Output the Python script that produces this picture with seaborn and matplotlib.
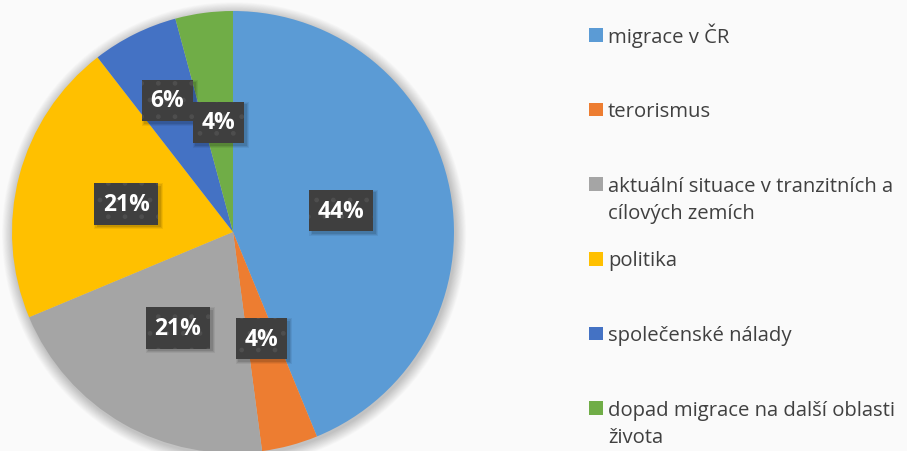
import matplotlib
matplotlib.use("Agg")
import matplotlib.pyplot as plt
import matplotlib.patches as mpatches
import matplotlib.transforms as mtransforms
import numpy as np
import seaborn as sns

# ---- data ----
categories = [
    "migrace v ČR",
    "terorismus",
    "aktuální situace v tranzitních a\ncílových zemích",
    "politika",
    "společenské nálady",
    "dopad migrace na další oblasti\nživota",
]
shares = [43.8, 4.1, 20.8, 20.8, 6.3, 4.2]
pct_labels = ["44%", "4%", "21%", "21%", "6%", "4%"]
colors = ["#5B9BD5", "#ED7D31", "#A5A5A5", "#FFC000", "#4472C4", "#70AD47"]

# ---- style / layout ----
label_dist = [0.5, 0.5, 0.5, 0.5, 0.665, 0.5]
BG = "#FAFAFA"
TXT = "#404040"

sns.set_theme(style="white")
plt.rcParams["font.family"] = ["Open Sans", "DejaVu Sans"]

W, H = 907, 452
fig = plt.figure(figsize=(W / 100, H / 100), dpi=100, facecolor=BG)

cx, cy, R = 233, 233, 221
ax = fig.add_axes([(cx - R) / W, (H - cy - R) / H, 2 * R / W, 2 * R / H])
ax.set_facecolor(BG)

palette = sns.color_palette(colors)

# soft shadow behind the pie
for k in range(14):
    ax.add_patch(mpatches.Circle((0.005, -0.01), 1 + 0.05 * (k + 1) / 14,
                                 color="black", alpha=0.016, lw=0,
                                 clip_on=False, zorder=0))

wedges, _ = ax.pie(shares, colors=palette, startangle=90, counterclock=False,
                   radius=1, wedgeprops=dict(linewidth=0, zorder=2))
for w in wedges:
    w.set_clip_on(False)
ax.set_xlim(-1, 1)
ax.set_ylim(-1, 1)
ax.set_aspect("equal")
ax.axis("off")

# data labels
texts = []
for w, lab, d in zip(wedges, pct_labels, label_dist):
    ang = np.deg2rad((w.theta1 + w.theta2) / 2)
    x, y = d * np.cos(ang), d * np.sin(ang)
    t = ax.text(x, y, lab, ha="center", va="center", fontsize=16.5,
                fontweight="bold", color="white", zorder=5,
                bbox=dict(boxstyle="square,pad=0.38", facecolor="#3F3F3F",
                          edgecolor="#4E4E4E", linewidth=0, hatch="."))
    texts.append(t)

# drop shadows of the label boxes (soft, offset down-right), under the boxes
fig.canvas.draw()
renderer = fig.canvas.get_renderer()
ident = mtransforms.IdentityTransform()
for t in texts:
    bb = t.get_bbox_patch().get_window_extent(renderer)
    for k, a in enumerate([0.10, 0.08, 0.06]):
        grow = k * 1.2
        ax.add_patch(mpatches.Rectangle(
            (bb.x0 + 2.5 - grow, bb.y0 - 2.5 - grow), bb.width + 2 * grow, bb.height + 2 * grow,
            transform=ident, facecolor="black", alpha=a, lw=0, zorder=3, clip_on=False))

# legend (manual, Excel-like: marker aligned to first line)
y0, step, line_gap = 42.7, 74.6, 27.5
for i, (lab, col) in enumerate(zip(categories, palette)):
    base = y0 + i * step
    fig.patches.append(mpatches.Rectangle((589 / W, 1 - base / H), 13.5 / W, 13.5 / H,
                                          transform=fig.transFigure, color=col, lw=0))
    for j, line in enumerate(lab.split("\n")):
        fig.text(608 / W, 1 - (base + j * line_gap) / H, line, ha="left",
                 va="baseline", fontsize=14.6, color=TXT)

fig.savefig("out.png", dpi=100, facecolor=BG)
